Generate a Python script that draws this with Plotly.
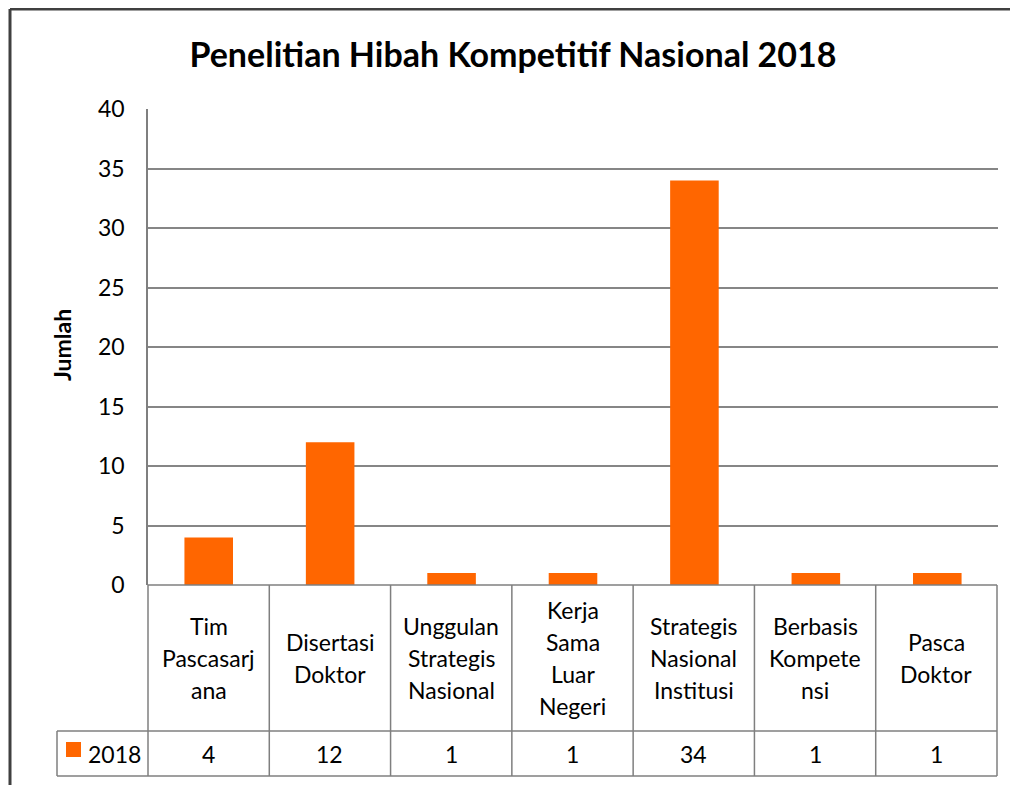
import plotly.graph_objects as go

# --- data ---
categories = [
    "Tim<br>Pascasarj<br>ana",
    "Disertasi<br>Doktor",
    "Unggulan<br>Strategis<br>Nasional",
    "Kerja<br>Sama<br>Luar<br>Negeri",
    "Strategis<br>Nasional<br>Institusi",
    "Berbasis<br>Kompete<br>nsi",
    "Pasca<br>Doktor",
]
series_name = "2018"
values = [4, 12, 1, 1, 34, 1, 1]
y_ticks = [0, 5, 10, 15, 20, 25, 30, 35, 40]

# --- geometry: pixel positions measured on the screenshot ---
# page body adds an 8px margin, so the figure is shrunk and shifted back
OFF = 8
W, H = 1018 - OFF, 785 - OFF
L, R, T, B = 148 - OFF, 998 - OFF, 109 - OFF, 585 - OFF
FONT = "Lato, Calibri, Carlito, sans-serif"
ORANGE = "#FF6600"
GRID = "#868686"
LINE = "#7f7f7f"


def px(x):
    # screenshot x -> paper
    return (x - OFF - L) / (R - L)


def py(y):
    # screenshot y -> paper
    return (B - (y - OFF)) / (B - T)


fig = go.Figure()
fig.add_trace(go.Bar(
    x=list(range(len(values))), y=values, name=series_name,
    marker=dict(color=ORANGE, line=dict(width=0)),
    showlegend=False,
))

shapes = []
annots = []

# outer frame (only top and left visible)
shapes.append(dict(type="line", xref="paper", yref="paper",
                   x0=px(10), x1=px(1030), y0=py(9), y1=py(9),
                   line=dict(color="#404040", width=3)))
shapes.append(dict(type="line", xref="paper", yref="paper",
                   x0=px(10), x1=px(10), y0=py(9), y1=py(800),
                   line=dict(color="#404040", width=3)))

# data table below the plot
n = len(categories)
x_left, x_right = 148, 997
cw = (x_right - x_left) / n
top, row1_bot, row2_bot = 585, 731, 776
for yy, x0 in [(top, x_left), (row1_bot, 57), (row2_bot, 57)]:
    shapes.append(dict(type="line", xref="paper", yref="paper",
                       x0=px(x0), x1=px(x_right), y0=py(yy), y1=py(yy),
                       line=dict(color=LINE, width=1.5)))
for i in range(n + 1):
    xx = x_left + i * cw
    shapes.append(dict(type="line", xref="paper", yref="paper",
                       x0=px(xx), x1=px(xx), y0=py(top), y1=py(row2_bot),
                       line=dict(color=LINE, width=1.5)))
shapes.append(dict(type="line", xref="paper", yref="paper",
                   x0=px(57), x1=px(57), y0=py(row1_bot), y1=py(row2_bot),
                   line=dict(color=LINE, width=1.5)))
# legend key
shapes.append(dict(type="rect", xref="paper", yref="paper",
                   x0=px(66), x1=px(81), y0=py(742), y1=py(757),
                   fillcolor=ORANGE, line=dict(width=0)))

line_h = 32
mid1 = (top + row1_bot) / 2
mid2 = (row1_bot + row2_bot) / 2
tfont = dict(family=FONT, size=23, color="#000")
for i, (cat, v) in enumerate(zip(categories, values)):
    cx = x_left + (i + 0.5) * cw
    parts = cat.split("<br>")
    for j, p in enumerate(parts):
        yy = mid1 + (j - (len(parts) - 1) / 2) * line_h
        annots.append(dict(text=p, x=px(cx), y=py(yy), xref="paper", yref="paper",
                           showarrow=False, xanchor="center", yanchor="middle",
                           font=tfont))
    annots.append(dict(text=str(v), x=px(cx), y=py(mid2), xref="paper", yref="paper",
                       showarrow=False, xanchor="center", yanchor="middle",
                       font=tfont))

annots.append(dict(text=series_name, x=px(86), y=py(mid2), xref="paper", yref="paper",
                   showarrow=False, xanchor="left", yanchor="middle", font=tfont))

# y axis title
annots.append(dict(text="<b>Jumlah</b>", x=px(62), y=py(345), xref="paper", yref="paper",
                   showarrow=False, textangle=-90, xanchor="center", yanchor="middle",
                   font=dict(family=FONT, size=23, color="#000")))

fig.update_layout(
    width=W, height=H,
    margin=dict(l=L, r=W - R, t=T, b=H - B),
    paper_bgcolor="white", plot_bgcolor="white",
    title=dict(text="<b>Penelitian Hibah Kompetitif Nasional 2018</b>",
               x=0.5, xanchor="center", y=1 - (55 - OFF) / H, yanchor="middle",
               font=dict(family=FONT, size=34, color="#000")),
    bargap=0.6,
    shapes=shapes,
    annotations=annots,
)
fig.update_xaxes(range=[-0.5, n - 0.5], showticklabels=False, showgrid=False,
                 zeroline=False, showline=False, ticks="")
fig.update_yaxes(range=[0, 40], tickvals=y_ticks, showgrid=True, gridcolor=GRID,
                 gridwidth=1.5, zeroline=False, showline=True, linecolor=LINE,
                 linewidth=1.5, ticks="", ticklabelstandoff=17,
                 tickfont=dict(family=FONT, size=23, color="#000"))

fig.write_html("out.html")
